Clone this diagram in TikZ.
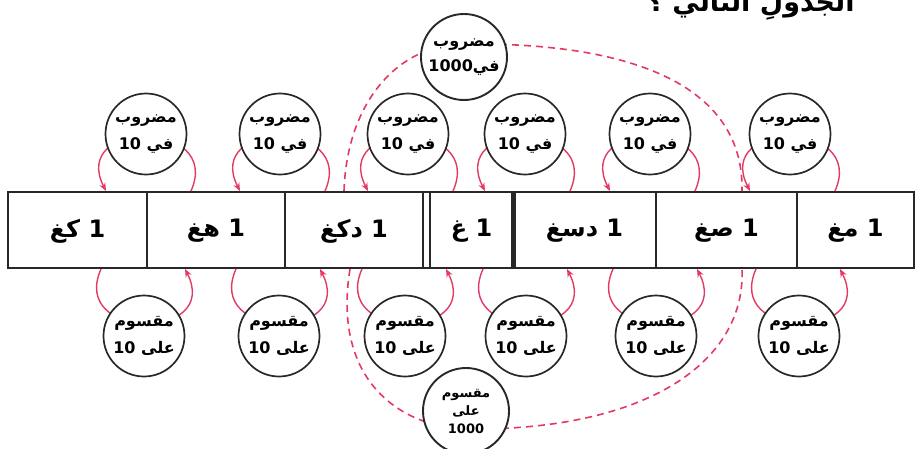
\documentclass[tikz,border=0pt]{standalone}
\usepackage{fontspec}
\newfontfamily\arabicfont[Script=Arabic]{DejaVu Sans}
\TeXXeTstate=1
\usetikzlibrary{arrows.meta}
\definecolor{arcred}{RGB}{226,58,98}
\definecolor{inkgray}{RGB}{40,40,40}
\begin{document}
\begin{tikzpicture}[x=1pt,y=-1pt,
  opcircle/.style={circle,draw=inkgray,line width=1.7pt,fill=white,minimum size=81pt,inner sep=0pt,align=center,
    font=\arabicfont\bfseries\fontsize{16}{27}\selectfont},
  bigcircle/.style={opcircle,minimum size=86pt,line width=1.9pt},
  celltext/.style={inner sep=0pt,font=\arabicfont\bfseries\fontsize{24}{28}\selectfont},
  looparc/.style={draw=arcred,line width=1.4pt,-{Stealth[length=8pt,width=6.5pt]}},
  bigarc/.style={draw=arcred,line width=1.6pt,dash pattern=on 7pt off 5pt},
  tableline/.style={draw=inkgray,line width=1.5pt}
]
\useasboundingbox (0,0) rectangle (922,448);

% title (cropped at the top, as in the reference)
\node[anchor=base,inner sep=0pt,font=\arabicfont\bfseries\fontsize{27}{30}\selectfont] (title) at (751,11) {\beginR الجدولِ التالي ؟\endR};

% table
\coordinate (tl) at (8,192);
\coordinate (br) at (914,268);
\draw[tableline] (tl) rectangle (br);
\foreach \dx in {147,285,423,430,656,797}
  \draw[tableline] (\dx,192) -- (\dx,268);
\draw[draw=inkgray,line width=5pt] (513,192) -- (513,268);

\node[celltext] (c1) at (77.5,231) {\beginR 1 كغ\endR};
\node[celltext] (c2) at (216,231) {\beginR 1 هغ\endR};
\node[celltext] (c3) at (354,231) {\beginR 1 دكغ\endR};
\node[celltext] (c4) at (471.5,231) {\beginR 1 غ\endR};
\node[celltext] (c5) at (584.5,231) {\beginR 1 دسغ\endR};
\node[celltext] (c6) at (726.5,231) {\beginR 1 صغ\endR};
\node[celltext] (c7) at (855.5,231) {\beginR 1 مغ\endR};

% big dashed arcs
\coordinate (dtl) at (344,191);
\coordinate (dtr) at (742,191);
\coordinate (dbl) at (350,269);
\coordinate (dbr) at (742,269);
\coordinate (mtop) at (464,44);
\coordinate (mbot) at (466,429);
\draw[bigarc] (dtl) .. controls (347,100) and (400,44) .. (mtop);
\draw[bigarc] (mtop) .. controls (660,42) and (744,100) .. (dtr);
\draw[bigarc] (dbl) .. controls (332,380) and (400,427) .. (mbot);
\draw[bigarc] (mbot) .. controls (650,431) and (746,360) .. (dbr);

% loop arcs, top (multiply) and bottom (divide)
\foreach \cx [count=\i] in {146,280,408,525,650,790} {
  \coordinate (ts\i) at (\cx+45,191);
  \coordinate (te\i) at (\cx-40,191);
  \draw[looparc] (ts\i) .. controls +(32,-72) and +(-37,-72) .. (te\i);
}
\foreach \cx [count=\i] in {144,279,405,526,656,799} {
  \coordinate (bs\i) at (\cx-43,269);
  \coordinate (be\i) at (\cx+41,269);
  \draw[looparc] (bs\i) .. controls +(-32,72) and +(37,72) .. (be\i);
}

% circles
\foreach \cx [count=\i] in {146,280,408,525,650,790}
  \node[opcircle] (m\i) at (\cx,134) {\beginR مضروب\endR\\\beginR في 10\endR};
\foreach \cx [count=\i] in {144,279,405,526,656,799}
  \node[opcircle] (d\i) at (\cx,336) {\beginR مقسوم\endR\\\beginR على 10\endR};

\node[bigcircle,font=\arabicfont\bfseries\fontsize{16}{25}\selectfont] (M) at (464,57) {\beginR مضروب\endR\\\beginR في1000\endR};
\node[bigcircle,font=\arabicfont\bfseries\fontsize{13}{18}\selectfont] (D) at (466,411) {\beginR مقسوم\endR\\\beginR على\endR\\1000};
\end{tikzpicture}
\end{document}
